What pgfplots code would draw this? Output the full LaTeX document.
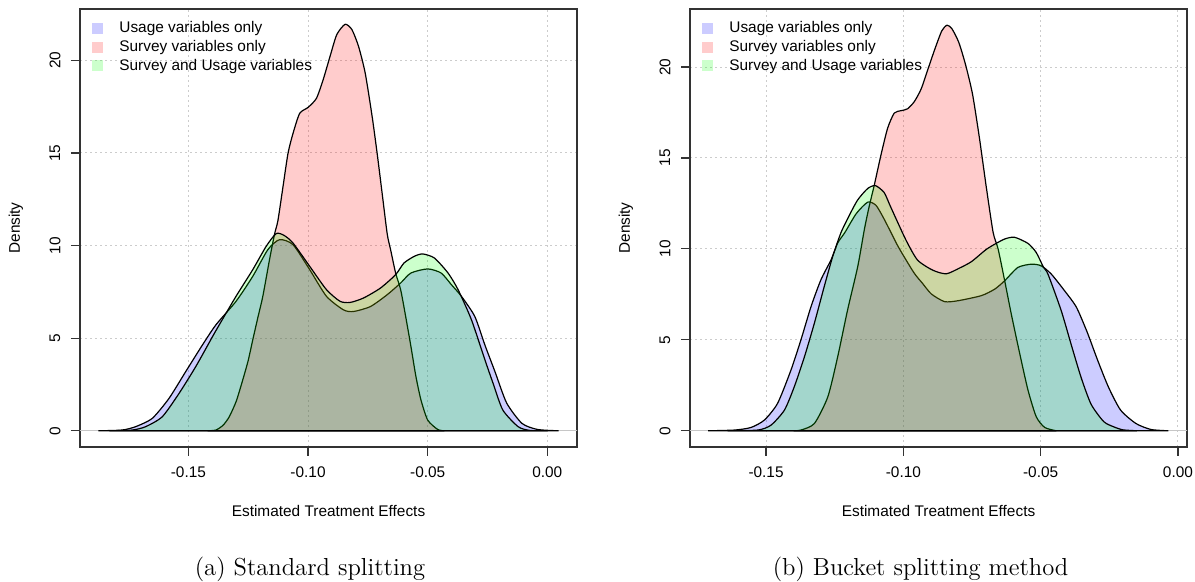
\documentclass[border=0pt]{standalone}
\usepackage{fontspec}
\usepackage{pgfplots}
\pgfplotsset{compat=1.18}
\newfontfamily\rfont{Liberation Sans}
\newcommand\rsize{\rfont\fontsize{7.7}{9}\selectfont}

\pgfplotsset{
  rdens/.style={
    scale only axis, width=248.5pt, height=219pt, anchor=south west,
    axis line style={black!80, line width=0.6pt},
    tick style={black!80, line width=0.6pt},
    tick align=outside, major tick length=4.5pt,
    xtick pos=bottom, ytick pos=left,
    xtick={-0.15,-0.1,-0.05,0}, xticklabels={-0.15,-0.10,-0.05,0.00},
    ytick={0,5,10,15,20}, yticklabels={0,5,10,15,20},
    tick label style={font=\rsize},
    xticklabel style={anchor=center, yshift=-8pt},
    yticklabel style={rotate=90, anchor=center, yshift=8pt},
    grid=major,
    grid style={black!20, line width=0.5pt, dash pattern=on 1pt off 1.5pt},
    xlabel={Estimated Treatment Effects}, ylabel={Density},
    every axis x label/.style={at={(axis description cs:0.5,0)}, yshift=-32pt, anchor=center, font=\rsize},
    every axis y label/.style={at={(axis description cs:0,0.5)}, xshift=-32pt, rotate=90, anchor=center, font=\rsize},
    legend style={draw=none, fill=none, at={(axis description cs:0,1)}, anchor=north west,
      xshift=6pt, yshift=-4pt, font=\rsize, row sep=-1.7pt, column sep=6pt, inner sep=0pt},
    legend cell align=left,
    legend image code/.code={\fill[#1,draw=none] (0pt,-2.75pt) rectangle (5.5pt,2.75pt);},
  },
  dens/.style={draw=black, line width=0.6pt, fill=#1, fill opacity=0.2, smooth, tension=0.4},
}

\begin{document}
\begin{tikzpicture}
\path[use as bounding box] (0pt,0pt) rectangle (597.5pt,-291pt);

% (a) standard splitting
\begin{axis}[rdens, at={(40pt,-223.5pt)},
  xmin=-0.1953, xmax=0.0124, ymin=-0.876, ymax=22.776]
\addplot[gray!45, line width=0.5pt, forget plot] coordinates {(-0.3,0) (0.1,0)};
\addplot[dens=blue] coordinates {
(-0.1876,0) (-0.1777,0.04) (-0.1721,0.22) (-0.1651,0.67) (-0.1581,1.75) (-0.1511,3.2)
(-0.1441,4.64) (-0.1385,5.72) (-0.1301,6.99) (-0.1231,8.34) (-0.1168,9.78) (-0.1119,10.32)
(-0.1063,10.05) (-0.0993,8.7) (-0.0923,7.26) (-0.0852,6.53) (-0.0810,6.44) (-0.0739,6.71)
(-0.0669,7.35) (-0.0613,7.98) (-0.0570,8.52) (-0.0500,8.74) (-0.0444,8.52) (-0.0401,7.89)
(-0.0359,7.26) (-0.0303,6.17) (-0.0260,4.6) (-0.0219,3.2) (-0.0170,1.5) (-0.0106,0.4)
(-0.0041,0.07) (0.0047,0)
} \closedcycle;
\addlegendentry{Usage variables only}
\addplot[dens=red] coordinates {
(-0.1420,0) (-0.1385,0.04) (-0.1355,0.3) (-0.1329,0.76) (-0.1300,1.6) (-0.1273,2.74)
(-0.1250,3.8) (-0.1231,4.91) (-0.1210,6.1) (-0.1189,7.26) (-0.1161,9.24) (-0.1140,10.62)
(-0.1126,11.34) (-0.1105,13.15) (-0.1084,14.96) (-0.1063,16.05) (-0.1035,17.14) (-0.1000,17.46)
(-0.0965,17.95) (-0.0937,18.95) (-0.0908,20.22) (-0.0880,21.39) (-0.0845,21.95) (-0.0817,21.67)
(-0.0789,20.76) (-0.0761,19.31) (-0.0732,16.96) (-0.0711,14.96) (-0.0690,12.79) (-0.0669,10.62)
(-0.0655,9.78) (-0.0634,8.52) (-0.0613,7.62) (-0.0592,6.17) (-0.0570,4.55) (-0.0549,2.92)
(-0.0528,1.66) (-0.0500,0.58) (-0.0458,0.07) (-0.0430,0)
} \closedcycle;
\addlegendentry{Survey variables only}
\addplot[dens=green] coordinates {
(-0.1830,0) (-0.1735,0.04) (-0.1679,0.22) (-0.1609,0.76) (-0.1539,2.02) (-0.1469,3.47)
(-0.1399,5.09) (-0.1371,5.72) (-0.1301,7.26) (-0.1231,8.7) (-0.1175,9.96) (-0.1133,10.65)
(-0.1100,10.55) (-0.1063,10.14) (-0.0993,8.88) (-0.0923,7.62) (-0.0866,6.99) (-0.0824,6.93)
(-0.0768,7.17) (-0.0697,7.71) (-0.0634,8.43) (-0.0599,9.06) (-0.0556,9.42) (-0.0521,9.55)
(-0.0472,9.33) (-0.0415,8.52) (-0.0373,7.62) (-0.0317,5.99) (-0.0260,3.8) (-0.0225,2.5)
(-0.0186,1.12) (-0.0122,0.22) (-0.0073,0.02) (0.0000,0)
} \closedcycle;
\addlegendentry{Survey and Usage variables}
\end{axis}

% (b) bucket splitting
\begin{axis}[rdens, at={(345pt,-223.5pt)},
  xmin=-0.1777, xmax=0.0033, ymin=-0.892, ymax=23.19]
\addplot[gray!45, line width=0.5pt, forget plot] coordinates {(-0.3,0) (0.1,0)};
\addplot[dens=blue] coordinates {
(-0.1711,0) (-0.1615,0.04) (-0.1555,0.18) (-0.1506,0.59) (-0.1458,1.51) (-0.1409,3.35)
(-0.1373,5.0) (-0.1336,6.84) (-0.1300,8.31) (-0.1263,9.41) (-0.1239,10.33) (-0.1213,10.9)
(-0.1172,11.93) (-0.1130,12.57) (-0.1100,12.4) (-0.1074,11.75) (-0.1045,10.9) (-0.1018,10.1)
(-0.0962,8.7) (-0.0930,8.1) (-0.0898,7.52) (-0.0850,7.1) (-0.0801,7.15) (-0.0716,7.43)
(-0.0667,7.79) (-0.0631,8.25) (-0.0583,8.98) (-0.0534,9.16) (-0.0498,9.07) (-0.0461,8.61)
(-0.0413,7.7) (-0.0370,6.8) (-0.0330,5.4) (-0.0293,3.9) (-0.0253,2.4) (-0.0209,1.14)
(-0.0153,0.4) (-0.0098,0.07) (-0.0035,0)
} \closedcycle;
\addlegendentry{Usage variables only}
\addplot[dens=red] coordinates {
(-0.1400,0) (-0.1373,0.04) (-0.1324,0.4) (-0.1275,1.87) (-0.1239,4.08) (-0.1203,6.65)
(-0.1166,9.04) (-0.1142,11.07) (-0.1125,12.3) (-0.1106,13.5) (-0.1081,15.2) (-0.1057,16.65)
(-0.1033,17.47) (-0.1008,17.6) (-0.0985,17.7) (-0.0960,18.1) (-0.0935,18.8) (-0.0910,19.9)
(-0.0885,21.0) (-0.0860,21.99) (-0.0841,22.3) (-0.0823,22.1) (-0.0798,21.35) (-0.0773,20.1)
(-0.0748,18.5) (-0.0723,16.1) (-0.0698,13.4) (-0.0673,10.9) (-0.0655,10.0) (-0.0631,8.25)
(-0.0607,6.42) (-0.0576,4.23) (-0.0546,2.23) (-0.0516,0.77) (-0.0485,0.18) (-0.0443,0)
} \closedcycle;
\addlegendentry{Survey variables only}
\addplot[dens=green] coordinates {
(-0.1640,0) (-0.1530,0.04) (-0.1482,0.31) (-0.1433,1.14) (-0.1397,2.43) (-0.1360,4.08)
(-0.1324,5.92) (-0.1288,7.94) (-0.1257,9.6) (-0.1227,10.9) (-0.1195,11.9) (-0.1166,12.7)
(-0.1130,13.32) (-0.1102,13.48) (-0.1070,13.1) (-0.1046,12.3) (-0.0990,10.47) (-0.0948,9.38)
(-0.0893,8.83) (-0.0844,8.63) (-0.0795,8.95) (-0.0752,9.3) (-0.0700,9.95) (-0.0667,10.26)
(-0.0630,10.55) (-0.0595,10.64) (-0.0546,10.3) (-0.0516,9.8) (-0.0490,9.0) (-0.0473,8.6)
(-0.0425,6.6) (-0.0388,4.7) (-0.0352,2.9) (-0.0316,1.45) (-0.0270,0.5) (-0.0231,0.2)
(-0.0200,0.05) (-0.0150,0)
} \closedcycle;
\addlegendentry{Survey and Usage variables}
\end{axis}

\node[font=\fontsize{12.3}{14}\selectfont, anchor=base] at (155pt,-288pt) {(a) Standard splitting};
\node[font=\fontsize{12.3}{14}\selectfont, anchor=base] at (460.3pt,-288pt) {(b) Bucket splitting method};
\end{tikzpicture}
\end{document}
